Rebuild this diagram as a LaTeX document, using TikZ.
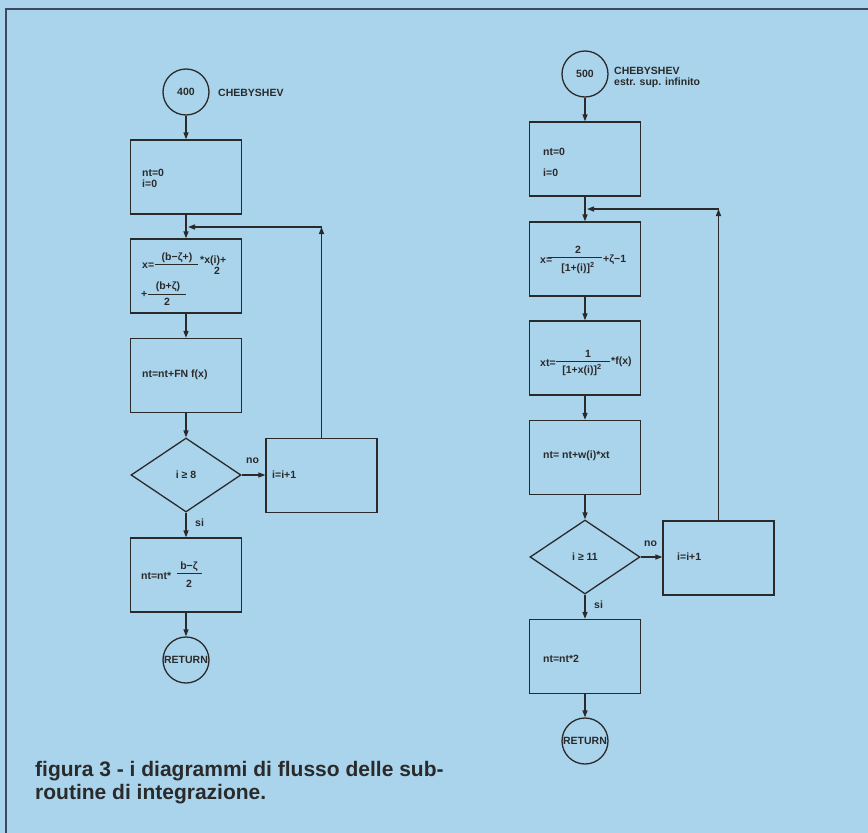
\documentclass[tikz,border=0pt]{standalone}
\usepackage{fontspec}
\setmainfont{Liberation Sans}
\usetikzlibrary{shapes.geometric,arrows.meta}
\definecolor{bg}{HTML}{A9D4EC}
\definecolor{ink}{HTML}{2A2A2A}
\definecolor{framec}{HTML}{3C4A5E}
\begin{document}
\begin{tikzpicture}[x=1pt,y=-1pt,
  box/.style={draw=ink, line width=1.3pt, minimum width=111pt, minimum height=74pt, inner sep=0pt},
  dec/.style={diamond, draw=ink, line width=1.3pt, minimum width=110pt, minimum height=74pt, inner sep=0pt, text=ink, font=\bfseries\fontsize{10.5}{12}\selectfont},
  term/.style={circle, draw=ink, line width=1.3pt, minimum size=46pt, inner sep=0pt, text=ink, font=\bfseries\fontsize{10.5}{12}\selectfont},
  txt/.style={anchor=west, inner sep=0pt, text=ink, font=\bfseries\fontsize{10.5}{12}\selectfont},
  ctxt/.style={anchor=center, inner sep=0pt, text=ink, font=\bfseries\fontsize{10.5}{12}\selectfont},
  arr/.style={draw=ink, line width=1.3pt, -{Triangle[length=7pt,width=5pt]}},
  fracline/.style={draw=ink, line width=0.9pt},
  captxt/.style={anchor=base west, inner sep=0pt, text=ink, font=\bfseries\fontsize{21}{23}\selectfont}
]
\useasboundingbox (0,0) rectangle (868,833);
\fill[bg] (0,0) rectangle (868,833);
\draw[framec, line width=2.4pt] (868,9) -- (6,9) -- (6,833);

% ---------------- left flowchart ----------------
\node[term] (c400) at (186,92) {400};
\node[txt] (t400) at (218,93) {CHEBYSHEV};
\node[box] (b1) at (186,177) {};
\node[txt, align=left, font=\bfseries\fontsize{10.5}{11}\selectfont] (t1) at (142,178.5) {nt=0\\i=0};
\node[box] (b2) at (186,276) {};
\node[txt] (t2a) at (142,266) {x=};
\node[ctxt] (t2n) at (177,257.5) {(b−ζ+)};
\draw[fracline] (155,264) -- (198,264);
\node[txt] (t2b) at (200,261) {*x(i)+};
\node[ctxt] (t2d) at (217,271) {2};
\node[txt] (t2c) at (141,294) {+};
\draw[fracline] (148,294) -- (186,294);
\node[ctxt] (t2e) at (168,287) {(b+ζ)};
\node[ctxt] (t2f) at (167,302) {2};
\node[box] (b3) at (186,375.5) {};
\node[txt] (t3) at (142,375) {nt=nt+FN f(x)};
\node[dec] (d1) at (186,475) {i ≥ 8};
\node[box] (ii1) at (321.5,475.5) {};
\node[txt] (tii1) at (272,475) {i=i+1};
\node[box] (b4) at (186,575) {};
\node[txt] (t4) at (141,576) {nt=nt*};
\node[ctxt] (t4n) at (189,567) {b−ζ};
\draw[fracline] (177,573) -- (202,573);
\node[ctxt] (t4d) at (189,584) {2};
\node[term] (r1) at (186,660) {RETURN};
\node[txt] (no1) at (246,461) {no};
\node[txt] (si1) at (195,523) {si};

\draw[arr] (c400) -- (b1);
\draw[arr] (b1) -- (b2);
\draw[arr] (b2) -- (b3);
\draw[arr] (b3) -- (d1);
\draw[arr] (d1.east) -- (d1.east -| ii1.west);
\draw[arr] (d1) -- (b4);
\draw[arr] (b4) -- (r1);
\coordinate (lc) at (321.5,227);
\coordinate (lj) at (188,227);
\draw[arr] (ii1.north) -- (lc);
\draw[arr] (lc) -- (lj);

% ---------------- right flowchart ----------------
\node[term] (c500) at (585,74) {500};
\node[txt, align=left, anchor=north west, font=\bfseries\fontsize{10.5}{11}\selectfont] (t500) at (614,67) {CHEBYSHEV\\estr. sup. infinito};
\node[box] (rb1) at (585,159) {};
\node[txt, align=left, font=\bfseries\fontsize{10.5}{21}\selectfont] (rt1) at (543,162.5) {nt=0\\i=0};
\node[box] (rb2) at (585,259) {};
\node[txt] (rt2a) at (540,261) {x=};
\node[ctxt] (rt2n) at (578,250) {2};
\draw[fracline] (548,257.5) -- (602,257.5);
\node[ctxt] (rt2d) at (578,268) {[1+(i)]\textsuperscript{2}};
\node[txt] (rt2b) at (603,260) {+ζ−1};
\node[box] (rb3) at (585,358) {};
\node[txt] (rt3a) at (540,363) {xt=};
\node[ctxt] (rt3n) at (588,354) {1};
\draw[fracline] (556,361) -- (610,361);
\node[ctxt] (rt3d) at (582,370) {[1+x(i)]\textsuperscript{2}};
\node[txt] (rt3b) at (611,362) {*f(x)};
\node[box] (rb4) at (585,457.5) {};
\node[txt] (rt4) at (543,456) {nt= nt+w(i)*xt};
\node[dec] (rd) at (585,557) {i ≥ 11};
\node[box] (rii) at (718.5,558) {};
\node[txt] (trii) at (677,557) {i=i+1};
\node[box] (rb5) at (585,656.5) {};
\node[txt] (rt5) at (543,659) {nt=nt*2};
\node[term] (rr) at (585,741) {RETURN};
\node[txt] (no2) at (644,544) {no};
\node[txt] (si2) at (594,605) {si};

\draw[arr] (c500) -- (rb1);
\draw[arr] (rb1) -- (rb2);
\draw[arr] (rb2) -- (rb3);
\draw[arr] (rb3) -- (rb4);
\draw[arr] (rb4) -- (rd);
\draw[arr] (rd.east) -- (rd.east -| rii.west);
\draw[arr] (rd) -- (rb5);
\draw[arr] (rb5) -- (rr);
\coordinate (rc) at (718.5,209);
\coordinate (rj) at (587,209);
\draw[arr] (rii.north) -- (rc);
\draw[arr] (rc) -- (rj);

% ---------------- caption ----------------
\node[captxt] (cap1) at (35,776) {figura 3 - i diagrammi di flusso delle sub-};
\node[captxt] (cap2) at (35,799) {routine di integrazione.};
\end{tikzpicture}
\end{document}
